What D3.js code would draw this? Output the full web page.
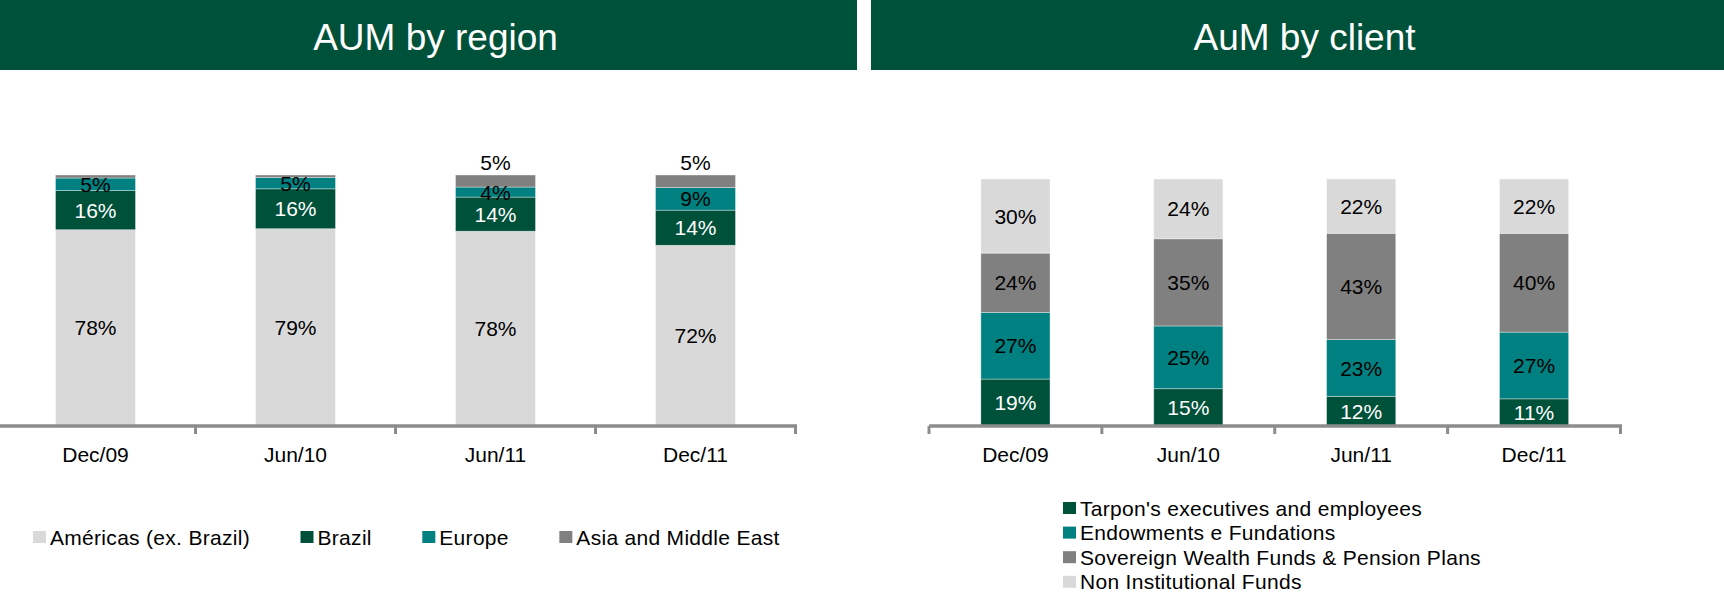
<!DOCTYPE html>
<html>
<head>
<meta charset="utf-8">
<script src="https://cdn.jsdelivr.net/npm/d3@7"></script>
<style>
  body { margin: 0; background: #fff; }
  svg { display: block; font-family: "Liberation Sans", Arial, sans-serif; }
</style>
</head>
<body>
<svg id="chart" width="1724" height="595"></svg>
<script>
// categories
var periods = ['Dec/09', 'Jun/10', 'Jun/11', 'Dec/11'];

// AUM by region (% of total)
var regionNames = ['Américas (ex. Brazil)', 'Brazil', 'Europe', 'Asia and Middle East'];
var americas = [78.2, 78.6, 77.6, 72];
var brazil   = [15.6, 15.9, 13.6, 14];
var europe   = [5.0, 4.5, 4.0, 9];
var asia     = [1.2, 1.0, 4.8, 5];

// AuM by client (% of total)
var clientNames = ["Tarpon's executives and employees", 'Endowments e Fundations',
  'Sovereign Wealth Funds & Pension Plans', 'Non Institutional Funds'];
var tarpon     = [19, 15.1, 12, 11];
var endowments = [27, 25.4, 23, 27];
var sovereign  = [24, 35.3, 43, 40];
var nonInst    = [30, 24.2, 22, 22];

var GREEN = '#00513a', TEAL = '#008080', GRAY = '#808080', LIGHT = '#d9d9d9';
var AXIS = '#8c8c8c';
var FONT = '21px';

var svg = d3.select('#chart');

function buildRows(names, series) {
  return periods.map(function(p, i) {
    var row = { period: p };
    names.forEach(function(n, k) { row[n] = series[k][i]; });
    return row;
  });
}

function drawPanel(cfg) {
  var g = svg.append('g');

  // header band
  g.append('rect')
    .attr('x', cfg.header[0]).attr('y', 0)
    .attr('width', cfg.header[1] - cfg.header[0]).attr('height', 70)
    .attr('fill', GREEN);
  g.append('text')
    .attr('x', (cfg.header[0] + cfg.header[1]) / 2 + 7).attr('y', 50)
    .attr('text-anchor', 'middle')
    .attr('fill', '#fff')
    .style('font-size', '37px')
    .text(cfg.title);

  var x = d3.scaleBand()
    .domain(periods)
    .range(cfg.xRange)
    .paddingInner(0.6)
    .paddingOuter(0.3);

  var y = d3.scaleLinear()
    .domain([0, 100])
    .range([426, cfg.top]);

  var color = d3.scaleOrdinal().domain(cfg.names).range(cfg.colors);

  var stacked = d3.stack().keys(cfg.names)(buildRows(cfg.names, cfg.series));

  var layers = g.selectAll('g.layer')
    .data(stacked)
    .enter().append('g')
    .attr('class', 'layer')
    .attr('fill', function(d) { return color(d.key); });

  layers.selectAll('rect')
    .data(function(d) { return d; })
    .enter().append('rect')
    .attr('x', function(d) { return x(d.data.period); })
    .attr('y', function(d) { return y(d[1]); })
    .attr('width', x.bandwidth())
    .attr('height', function(d) { return y(d[0]) - y(d[1]); })
    .attr('stroke', '#fff')
    .attr('stroke-opacity', 0.45)
    .attr('stroke-width', 0.8);

  // value labels
  stacked.forEach(function(layer) {
    var isTop = cfg.aboveKey === layer.key;
    g.selectAll(null)
      .data(layer.filter(function(d) { return d[1] - d[0] >= 3; }))
      .enter().append('text')
      .attr('x', function(d) { return x(d.data.period) + x.bandwidth() / 2; })
      .attr('y', function(d) { return isTop ? y(d[1]) - 5 : (y(d[0]) + y(d[1])) / 2; })
      .attr('dy', isTop ? 0 : '0.36em')
      .attr('text-anchor', 'middle')
      .attr('fill', color(layer.key) === GREEN ? '#fff' : '#000')
      .style('font-size', FONT)
      .text(function(d) { return Math.round(d[1] - d[0]) + '%'; });
  });

  // category axis
  var axis = g.append('g').attr('transform', 'translate(0,426)');
  axis.call(d3.axisBottom(x).tickSize(0).tickPadding(21))
    .call(function(a) { a.select('.domain').remove(); })
    .selectAll('text')
    .attr('fill', '#000')
    .style('font-size', FONT)
    .style('font-family', '"Liberation Sans", Arial, sans-serif');

  var bounds = [cfg.xRange[0]].concat(periods.map(function(p) {
    return x(p) + x.bandwidth() + x.step() * x.paddingInner() / 2;
  }));
  bounds[bounds.length - 1] = cfg.xRange[1];

  axis.append('line')
    .attr('x1', Math.max(0, cfg.xRange[0])).attr('x2', cfg.xRange[1] + 1.5)
    .attr('y1', 0).attr('y2', 0)
    .attr('stroke', AXIS).attr('stroke-width', 3.5);
  axis.selectAll('line.tick-mark')
    .data(bounds.filter(function(b) { return b >= 0; }))
    .enter().append('line')
    .attr('class', 'tick-mark')
    .attr('x1', function(d) { return d; }).attr('x2', function(d) { return d; })
    .attr('y1', 0).attr('y2', 8)
    .attr('stroke', AXIS).attr('stroke-width', 3);

  // legend
  var legend = g.append('g');
  var cursor = cfg.legendX;
  cfg.names.forEach(function(n, i) {
    var lx, ly;
    if (cfg.legendVertical) {
      lx = cfg.legendX;
      ly = cfg.legendY + i * 24.6;
    } else {
      lx = cursor;
      ly = cfg.legendY;
    }
    legend.append('rect')
      .attr('x', lx).attr('y', ly - 6)
      .attr('width', 13).attr('height', 12)
      .attr('fill', color(n));
    var t = legend.append('text')
      .attr('x', lx + 17).attr('y', ly)
      .attr('dy', '0.36em')
      .attr('fill', '#000')
      .style('font-size', FONT)
      .style('letter-spacing', '0.3px')
      .text(n);
    cursor = lx + 17 + t.node().getComputedTextLength() + 50.5;
  });
}

drawPanel({
  title: 'AUM by region',
  header: [0, 857],
  xRange: [-4.5, 795.5],
  top: 175,
  names: regionNames,
  series: [americas, brazil, europe, asia],
  colors: [LIGHT, GREEN, TEAL, GRAY],
  aboveKey: 'Asia and Middle East',
  legendX: 33,
  legendY: 537,
  legendVertical: false
});

drawPanel({
  title: 'AuM by client',
  header: [871, 1724],
  xRange: [929, 1620.5],
  top: 179,
  names: clientNames,
  series: [tarpon, endowments, sovereign, nonInst],
  colors: [GREEN, TEAL, GRAY, LIGHT],
  aboveKey: null,
  legendX: 1063,
  legendY: 508,
  legendVertical: true
});
</script>
</body>
</html>
